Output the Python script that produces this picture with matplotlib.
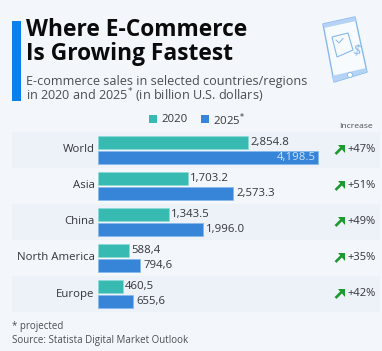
import matplotlib
matplotlib.use('Agg')
import matplotlib.pyplot as plt
from matplotlib.patches import Polygon, Rectangle, Circle

plt.rcParams['font.family'] = ['Open Sans', 'DejaVu Sans']

regions = ['World', 'Asia', 'China', 'North America', 'Europe']
sales_2020 = [2854.8, 1703.2, 1343.5, 588.4, 460.5]
sales_2025 = [4198.5, 2573.3, 1996.0, 794.6, 655.6]
labels_2020 = ['2,854.8', '1,703.2', '1,343.5', '588,4', '460,5']
labels_2025 = ['4,198.5', '2,573.3', '1,996.0', '794,6', '655,6']
increase = ['+47%', '+51%', '+49%', '+35%', '+42%']
legend_labels = ['2020', '2025$^{*}$']

W, H = 382, 351
BG = '#f3f7fb'
BAND = '#edf1f8'
TEAL = '#36bab1'
BLUE = '#3785d8'
GREY = '#4a4f55'
DARK = '#33373b'
ICON = '#b4d3f5'
ICON_LINE = '#86b8ee'

fig = plt.figure(figsize=(W / 100, H / 100), dpi=100, facecolor=BG)

# overlay in pixel coords for everything around the bars
bg = fig.add_axes([0, 0, 1, 1])
bg.set_xlim(0, W)
bg.set_ylim(H, 0)
bg.axis('off')

bg.add_patch(Rectangle((12, 21), 9, 80, color='#0a80ec', lw=0))
bg.text(26.5, 29.5, 'Where E-Commerce', fontsize=16.4, fontweight='bold', color='#0b0b0b', va='center')
bg.text(26.5, 54.5, 'Is Growing Fastest', fontsize=16.4, fontweight='bold', color='#0b0b0b', va='center')
bg.text(26.5, 81, 'E-commerce sales in selected countries/regions', fontsize=9.1, color=GREY, va='center')
bg.text(26.5, 96, 'in 2020 and 2025$^{*}$ (in billion U.S. dollars)', fontsize=9.1, color=GREY, va='center')

# legend
bg.add_patch(Rectangle((149, 115), 8, 8, color=TEAL, lw=0))
bg.text(161.5, 120, legend_labels[0], fontsize=8.2, color=DARK, va='center')
bg.add_patch(Rectangle((201, 115), 8, 8, color=BLUE, lw=0))
bg.text(213, 120, legend_labels[1], fontsize=8.2, color=DARK, va='center')
bg.text(356, 126.5, 'Increase', fontsize=6.1, color=GREY, va='center', ha='center')

# row bands
for y in [132, 204, 276]:
    bg.add_patch(Rectangle((12, y), 368, 36, color=BAND, lw=0))

# phone icon
bg.add_patch(Polygon([(323, 24), (355, 17), (367, 72), (334, 82)], closed=True,
                     facecolor='#f8fbfe', edgecolor=ICON_LINE, lw=1, joinstyle='round'))
bg.add_patch(Polygon([(323, 24), (355, 17), (356, 21), (324, 28)], color=ICON, lw=0))
bg.add_patch(Polygon([(331.5, 76), (366, 68), (367, 72), (334, 82)], color=ICON, lw=0))
bg.add_patch(Polygon([(332, 37), (348, 33), (353, 50), (337, 57)], closed=True,
                     facecolor='#f8fbfe', edgecolor=ICON_LINE, lw=0.8))
bg.text(356, 52, '$', fontsize=10, color=ICON_LINE, ha='center', va='center', rotation=-14, parse_math=False)
bg.add_patch(Circle((350, 75), 2.5, facecolor='white', edgecolor=ICON_LINE, lw=0.6))
bg.plot([336, 339, 343], [40, 43, 38.5], color=ICON_LINE, lw=0.7)

# footer
bg.text(12, 326.5, '* projected', fontsize=7, color=GREY, va='center')
bg.text(12, 340, 'Source: Statista Digital Market Outlook', fontsize=7, color=GREY, va='center')

# bars, in data coords
left = 98.5
px_per_unit = 0.0523
ax = fig.add_axes([left / W, (H - 312) / H, (W - left) / W, 180 / H])
ax.patch.set_alpha(0)
ax.set_xlim(0, (W - left) / px_per_unit)
ax.set_ylim(4.5, -0.5)
ax.axis('off')

ypos = list(range(len(regions)))
off = 0.205
bh = 0.37
ax.barh([y - off for y in ypos], sales_2020, height=bh, color=TEAL, edgecolor='#8fdcd6', lw=0.5)
ax.barh([y + off for y in ypos], sales_2025, height=bh, color=BLUE, edgecolor='#86b8ec', lw=0.5)

for i, y in enumerate(ypos):
    ax.text(-4 / px_per_unit, y, regions[i], ha='right', va='center', fontsize=8.2, color=DARK)
    ax.annotate(labels_2020[i], (sales_2020[i], y - off), xytext=(1.8, 0), textcoords='offset points',
                ha='left', va='center', fontsize=8.2, color=DARK)
    if i == 0:
        ax.annotate(labels_2025[i], (sales_2025[i], y + off), xytext=(-1.5, 0), textcoords='offset points',
                    ha='right', va='center', fontsize=8.2, color='#cfe3f8')
    else:
        ax.annotate(labels_2025[i], (sales_2025[i], y + off), xytext=(2.5, 0), textcoords='offset points',
                    ha='left', va='center', fontsize=8.2, color=DARK)
    # increase column
    cy = 150 + 36 * i
    bg.plot([335.5, 342.5], [cy + 4, cy - 3], color='#1c9a2f', lw=1.9, solid_capstyle='butt')
    bg.add_patch(Polygon([(337.5, cy - 5), (345, cy - 5), (345, cy + 2.5)], color='#1c9a2f', lw=0))
    bg.text(376, cy, increase[i], ha='right', va='center', fontsize=8, color=DARK)

fig.savefig('out.png', dpi=100, facecolor=BG)
